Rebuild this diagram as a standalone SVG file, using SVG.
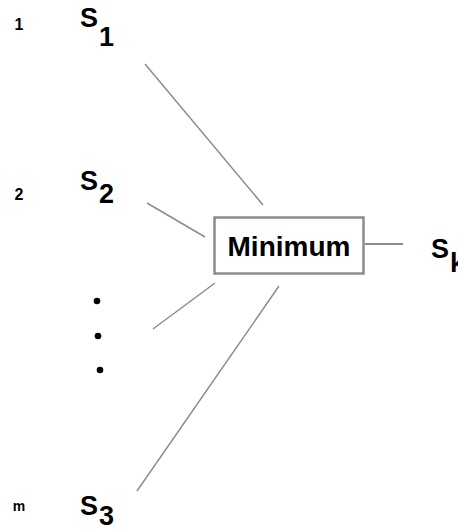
<svg xmlns="http://www.w3.org/2000/svg" width="458" height="531" viewBox="0 0 458 531">
<style>
.big{font-family:"Liberation Sans",Arial,sans-serif;font-weight:bold;font-size:27px;fill:#000}
.small{font-family:"Liberation Sans",Arial,sans-serif;font-weight:bold;font-size:16px;fill:#000}
.box{fill:#fff;stroke:#8c8c8c;stroke-width:2.5}
.lbl{font-family:"Liberation Sans",Arial,sans-serif;font-weight:bold;font-size:28px;fill:#000}
.conn line{stroke:#8c8c8c;stroke-width:1.5;fill:none}
.dot{fill:#000}
</style>
<rect width="458" height="531" fill="#fff"/>
<g id="connectors" class="conn">
<line x1="145" y1="64" x2="263" y2="205"/>
<line x1="147" y1="203" x2="205" y2="237"/>
<line x1="153" y1="329" x2="215" y2="283"/>
<line x1="137" y1="491" x2="279" y2="286"/>
<line x1="365" y1="244" x2="403" y2="244" style="stroke-width:2"/>
</g>
<g id="node-s1">
<text class="small" x="19" y="30" text-anchor="middle">1</text>
<text class="big" x="80" y="27">S</text>
<text class="big" x="99" y="46">1</text>
</g>
<g id="node-s2">
<text class="small" x="19" y="200" text-anchor="middle">2</text>
<text class="big" x="80" y="190">S</text>
<text class="big" x="99" y="203">2</text>
</g>
<g id="node-dots">
<circle class="dot" cx="97" cy="301" r="3.3"/>
<circle class="dot" cx="98" cy="336" r="3.3"/>
<circle class="dot" cx="100" cy="370" r="3.3"/>
</g>
<g id="node-s3">
<text class="small" x="19" y="511" text-anchor="middle" style="font-size:14px">m</text>
<text class="big" x="80" y="515">S</text>
<text class="big" x="99" y="525">3</text>
</g>
<g id="node-minimum">
<rect class="box" x="214.5" y="217.5" width="149" height="56"/>
<text class="lbl" x="289" y="256" text-anchor="middle">Minimum</text>
</g>
<g id="node-sk">
<text class="big" x="431" y="258">S</text>
<text class="big" x="450" y="272">k</text>
</g>
</svg>
